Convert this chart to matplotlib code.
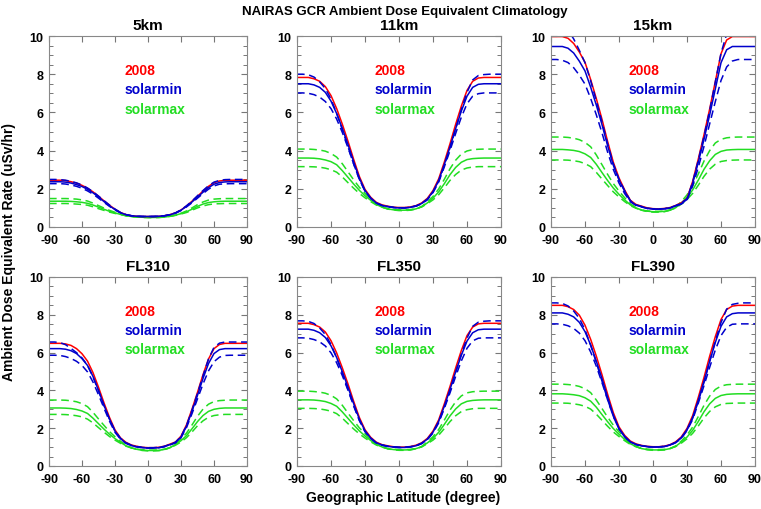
import matplotlib
matplotlib.use("Agg")
import matplotlib.pyplot as plt
from matplotlib.ticker import MultipleLocator

plt.rcParams['font.family'] = ['Liberation Sans', 'DejaVu Sans']
plt.rcParams['font.weight'] = 'bold'

latitude = list(range(-90, 91, 5))

# ---------------- 5km ----------------
km5_2008 = [2.45,2.45,2.45,2.43,2.37,2.3,2.18,2.03,1.84,1.61,1.37,1.14,0.93,0.76,0.65,0.59,0.56,0.55,0.55,0.55,0.56,0.59,0.65,0.74,0.89,1.1,1.35,1.61,1.88,2.13,2.32,2.41,2.44,2.45,2.45,2.45,2.45]
km5_min = [2.37,2.37,2.37,2.35,2.3,2.22,2.12,1.97,1.79,1.57,1.33,1.11,0.91,0.75,0.64,0.59,0.56,0.55,0.55,0.55,0.56,0.59,0.64,0.73,0.88,1.08,1.31,1.57,1.82,2.06,2.24,2.33,2.36,2.37,2.37,2.37,2.37]
km5_min_hi = [2.49,2.49,2.48,2.45,2.39,2.31,2.2,2.04,1.85,1.62,1.38,1.15,0.94,0.76,0.65,0.59,0.56,0.55,0.55,0.55,0.56,0.59,0.65,0.74,0.9,1.11,1.36,1.64,1.91,2.16,2.35,2.44,2.48,2.49,2.49,2.49,2.49]
km5_min_lo = [2.27,2.27,2.27,2.25,2.2,2.13,2.03,1.89,1.72,1.51,1.29,1.08,0.89,0.74,0.64,0.58,0.56,0.55,0.55,0.55,0.56,0.58,0.64,0.72,0.86,1.05,1.27,1.51,1.75,1.98,2.15,2.24,2.26,2.27,2.27,2.27,2.27]
km5_max = [1.35,1.35,1.35,1.35,1.34,1.32,1.29,1.24,1.15,1.04,0.93,0.82,0.74,0.66,0.59,0.55,0.52,0.51,0.5,0.5,0.5,0.52,0.56,0.62,0.7,0.8,0.93,1.08,1.2,1.28,1.32,1.34,1.35,1.35,1.35,1.35,1.35]
km5_max_hi = [1.49,1.49,1.49,1.49,1.48,1.46,1.42,1.36,1.25,1.12,0.99,0.87,0.77,0.68,0.6,0.55,0.52,0.5,0.49,0.49,0.5,0.52,0.56,0.63,0.72,0.84,1.0,1.17,1.31,1.41,1.46,1.48,1.49,1.49,1.49,1.49,1.49]
km5_max_lo = [1.23,1.23,1.23,1.23,1.22,1.2,1.18,1.14,1.06,0.96,0.87,0.78,0.71,0.65,0.59,0.55,0.53,0.52,0.51,0.51,0.51,0.53,0.56,0.61,0.68,0.76,0.88,1.0,1.1,1.17,1.21,1.22,1.23,1.23,1.23,1.23,1.23]

# ---------------- 11km ----------------
km11_2008 = [7.83,7.83,7.83,7.76,7.63,7.35,6.88,6.2,5.38,4.49,3.54,2.65,1.97,1.56,1.29,1.16,1.09,1.04,1.02,1.02,1.05,1.12,1.26,1.5,1.91,2.52,3.4,4.36,5.38,6.33,7.15,7.63,7.8,7.83,7.83,7.83,7.83]
km11_min = [7.5,7.5,7.5,7.44,7.31,7.05,6.59,5.94,5.16,4.32,3.41,2.56,1.91,1.52,1.26,1.13,1.07,1.02,1.0,1.0,1.03,1.1,1.23,1.46,1.85,2.43,3.28,4.19,5.16,6.07,6.85,7.31,7.47,7.5,7.5,7.5,7.5]
km11_min_hi = [8.0,8.0,7.97,7.85,7.6,7.25,6.7,5.95,5.1,4.2,3.3,2.5,1.88,1.5,1.25,1.13,1.07,1.03,1.01,1.01,1.04,1.1,1.23,1.45,1.83,2.4,3.22,4.15,5.15,6.15,7.05,7.7,7.93,7.98,8.0,8.0,8.0]
km11_min_lo = [7.02,7.02,7.0,6.93,6.8,6.57,6.2,5.65,4.95,4.15,3.3,2.5,1.88,1.5,1.25,1.12,1.06,1.02,1.0,1.0,1.03,1.09,1.21,1.42,1.8,2.35,3.15,4.0,4.9,5.75,6.45,6.85,6.98,7.02,7.02,7.02,7.02]
km11_max = [3.61,3.61,3.61,3.6,3.57,3.51,3.42,3.26,2.95,2.6,2.25,1.92,1.64,1.4,1.18,1.04,0.95,0.9,0.88,0.88,0.89,0.95,1.06,1.26,1.51,1.84,2.27,2.74,3.12,3.39,3.53,3.58,3.6,3.61,3.61,3.61,3.61]
km11_max_hi = [4.08,4.08,4.08,4.06,4.03,3.97,3.85,3.66,3.31,2.89,2.47,2.08,1.76,1.47,1.21,1.05,0.94,0.89,0.86,0.86,0.88,0.94,1.07,1.31,1.6,1.99,2.5,3.05,3.5,3.82,3.98,4.05,4.07,4.08,4.08,4.08,4.08]
km11_max_lo = [3.16,3.16,3.16,3.15,3.13,3.08,3.0,2.87,2.62,2.32,2.03,1.76,1.53,1.33,1.15,1.04,0.96,0.92,0.9,0.9,0.91,0.96,1.05,1.22,1.42,1.69,2.05,2.44,2.75,2.98,3.09,3.14,3.16,3.16,3.16,3.16,3.16]

# ---------------- 15km ----------------
km15_2008 = [9.97,9.97,9.97,9.88,9.61,9.16,8.62,7.72,6.72,5.64,4.47,3.39,2.57,1.94,1.4,1.18,1.09,1.0,0.96,0.95,0.97,1.02,1.13,1.27,1.49,2.39,3.57,4.83,6.18,7.62,9.07,9.79,9.97,9.97,9.97,9.97,9.97]
km15_min = [9.45,9.45,9.45,9.36,9.11,8.68,8.17,7.32,6.38,5.36,4.25,3.23,2.46,1.87,1.36,1.14,1.06,0.97,0.94,0.93,0.95,1.0,1.1,1.23,1.44,2.29,3.4,4.59,5.87,7.23,8.6,9.28,9.45,9.45,9.45,9.45,9.45]
km15_min_hi = [10.6,10.6,10.55,10.3,9.85,9.25,8.6,7.65,6.6,5.5,4.35,3.3,2.5,1.9,1.38,1.16,1.07,0.99,0.95,0.94,0.96,1.01,1.12,1.26,1.48,2.35,3.5,4.75,6.1,7.6,9.1,10.1,10.45,10.55,10.6,10.6,10.6]
km15_min_lo = [8.77,8.77,8.73,8.61,8.34,7.95,7.48,6.73,5.87,4.93,3.91,3.01,2.3,1.75,1.32,1.13,1.05,0.97,0.94,0.93,0.95,0.99,1.09,1.2,1.4,2.15,3.13,4.22,5.4,6.57,7.67,8.38,8.69,8.77,8.77,8.77,8.77]
km15_max = [4.06,4.06,4.06,4.04,4.01,3.95,3.83,3.64,3.28,2.85,2.43,2.04,1.71,1.42,1.16,1.0,0.88,0.83,0.8,0.8,0.82,0.88,1.01,1.26,1.55,1.94,2.46,3.02,3.47,3.8,3.96,4.03,4.05,4.06,4.06,4.06,4.06]
km15_max_hi = [4.71,4.71,4.71,4.69,4.65,4.57,4.43,4.2,3.77,3.26,2.75,2.27,1.88,1.53,1.21,1.02,0.88,0.81,0.78,0.78,0.8,0.88,1.04,1.33,1.68,2.16,2.78,3.45,4.0,4.4,4.59,4.67,4.7,4.71,4.71,4.71,4.71]
km15_max_lo = [3.51,3.51,3.51,3.5,3.47,3.42,3.32,3.16,2.86,2.51,2.17,1.84,1.57,1.33,1.12,0.98,0.89,0.84,0.82,0.82,0.83,0.89,0.99,1.2,1.44,1.76,2.19,2.65,3.03,3.29,3.43,3.48,3.5,3.51,3.51,3.51,3.51]

# ---------------- FL310 ----------------
fl310_2008 = [6.49,6.49,6.49,6.46,6.38,6.21,5.94,5.55,4.94,4.17,3.34,2.57,1.91,1.49,1.25,1.11,1.04,0.99,0.97,0.97,0.99,1.05,1.16,1.27,1.58,2.18,3.01,3.9,4.83,5.66,6.21,6.43,6.49,6.49,6.49,6.49,6.49]
fl310_min = [6.21,6.21,6.21,6.18,6.1,5.95,5.68,5.32,4.74,4.0,3.21,2.48,1.84,1.45,1.21,1.08,1.01,0.97,0.95,0.95,0.97,1.03,1.13,1.24,1.53,2.11,2.9,3.74,4.63,5.42,5.95,6.16,6.21,6.21,6.21,6.21,6.21]
fl310_min_hi = [6.56,6.56,6.53,6.42,6.22,6.0,5.72,5.33,4.71,3.98,3.2,2.47,1.86,1.46,1.23,1.09,1.03,0.98,0.97,0.97,0.99,1.04,1.14,1.26,1.55,2.14,2.95,3.84,4.77,5.66,6.28,6.5,6.56,6.56,6.56,6.56,6.56]
fl310_min_lo = [5.86,5.86,5.85,5.79,5.69,5.54,5.32,4.98,4.44,3.77,3.06,2.37,1.78,1.42,1.2,1.07,1.01,0.97,0.95,0.95,0.97,1.02,1.12,1.22,1.49,2.03,2.77,3.55,4.34,5.03,5.52,5.76,5.85,5.86,5.86,5.86,5.86]
fl310_max = [3.07,3.07,3.07,3.06,3.04,2.99,2.91,2.78,2.53,2.24,1.95,1.68,1.45,1.25,1.07,0.96,0.88,0.84,0.82,0.82,0.83,0.88,0.97,1.14,1.34,1.61,1.97,2.35,2.67,2.89,3.0,3.05,3.07,3.07,3.07,3.07,3.07]
fl310_max_hi = [3.49,3.49,3.49,3.48,3.45,3.4,3.3,3.14,2.84,2.49,2.15,1.82,1.55,1.31,1.1,0.96,0.87,0.82,0.8,0.8,0.81,0.87,0.97,1.18,1.42,1.74,2.17,2.63,3.01,3.27,3.41,3.46,3.48,3.49,3.49,3.49,3.49]
fl310_max_lo = [2.73,2.73,2.73,2.72,2.7,2.66,2.6,2.48,2.28,2.03,1.79,1.56,1.37,1.2,1.05,0.95,0.89,0.86,0.84,0.84,0.85,0.89,0.96,1.1,1.27,1.5,1.8,2.13,2.39,2.58,2.67,2.71,2.73,2.73,2.73,2.73,2.73]

# ---------------- FL350 ----------------
fl350_2008 = [7.55,7.55,7.55,7.48,7.35,7.09,6.63,5.98,5.19,4.34,3.42,2.57,1.92,1.52,1.26,1.13,1.07,1.02,1.0,1.0,1.03,1.1,1.23,1.46,1.85,2.44,3.29,4.21,5.19,6.11,6.9,7.35,7.52,7.55,7.55,7.55,7.55]
fl350_min = [7.24,7.24,7.24,7.18,7.05,6.8,6.36,5.74,4.99,4.17,3.3,2.48,1.86,1.48,1.23,1.11,1.04,1.0,0.98,0.98,1.01,1.07,1.2,1.42,1.79,2.36,3.17,4.05,4.99,5.86,6.61,7.05,7.21,7.24,7.24,7.24,7.24]
fl350_min_hi = [7.68,7.68,7.65,7.54,7.3,6.96,6.43,5.72,4.91,4.04,3.18,2.41,1.82,1.46,1.22,1.11,1.05,1.01,0.99,0.99,1.02,1.07,1.2,1.41,1.78,2.32,3.1,3.99,4.95,5.91,6.77,7.39,7.61,7.66,7.68,7.68,7.68]
fl350_min_lo = [6.78,6.78,6.76,6.69,6.57,6.35,5.99,5.46,4.78,4.01,3.2,2.42,1.83,1.46,1.22,1.1,1.04,1.0,0.98,0.98,1.01,1.07,1.18,1.39,1.75,2.28,3.05,3.87,4.74,5.56,6.23,6.62,6.76,6.78,6.78,6.78,6.78]
fl350_max = [3.5,3.5,3.5,3.49,3.46,3.41,3.31,3.16,2.86,2.52,2.18,1.86,1.59,1.35,1.14,1.01,0.92,0.87,0.85,0.85,0.86,0.92,1.02,1.22,1.46,1.78,2.2,2.65,3.02,3.29,3.42,3.47,3.49,3.5,3.5,3.5,3.5]
fl350_max_hi = [3.96,3.96,3.96,3.94,3.91,3.85,3.74,3.55,3.21,2.8,2.4,2.02,1.71,1.42,1.17,1.02,0.91,0.86,0.83,0.83,0.85,0.91,1.03,1.27,1.55,1.93,2.43,2.96,3.4,3.71,3.87,3.93,3.95,3.96,3.96,3.96,3.96]
fl350_max_lo = [3.05,3.05,3.05,3.04,3.02,2.97,2.9,2.77,2.53,2.24,1.96,1.7,1.48,1.28,1.11,1.0,0.92,0.89,0.87,0.87,0.88,0.92,1.01,1.18,1.37,1.63,1.98,2.35,2.66,2.88,2.98,3.03,3.05,3.05,3.05,3.05,3.05]

# ---------------- FL390 ----------------
fl390_2008 = [8.5,8.5,8.5,8.43,8.28,7.98,7.45,6.7,5.81,4.83,3.79,2.82,2.07,1.62,1.32,1.17,1.09,1.04,1.02,1.02,1.05,1.13,1.28,1.54,1.99,2.67,3.64,4.69,5.81,6.85,7.75,8.28,8.46,8.5,8.5,8.5,8.5]
fl390_min = [8.1,8.1,8.1,8.03,7.89,7.6,7.11,6.4,5.54,4.62,3.63,2.7,1.99,1.57,1.28,1.14,1.07,1.02,1.0,1.0,1.03,1.11,1.25,1.5,1.92,2.56,3.49,4.48,5.54,6.54,7.39,7.89,8.06,8.1,8.1,8.1,8.1]
fl390_min_hi = [8.63,8.63,8.6,8.47,8.2,7.81,7.21,6.39,5.47,4.49,3.51,2.63,1.96,1.54,1.27,1.14,1.08,1.03,1.01,1.01,1.05,1.11,1.25,1.49,1.91,2.53,3.42,4.43,5.52,6.62,7.59,8.3,8.55,8.61,8.63,8.63,8.63]
fl390_min_lo = [7.52,7.52,7.5,7.42,7.28,7.03,6.63,6.03,5.28,4.41,3.49,2.62,1.95,1.54,1.27,1.13,1.07,1.02,1.0,1.0,1.03,1.1,1.23,1.46,1.87,2.46,3.33,4.25,5.22,6.14,6.9,7.34,7.5,7.52,7.52,7.52,7.52]
fl390_max = [3.82,3.82,3.82,3.8,3.77,3.72,3.61,3.43,3.11,2.72,2.34,1.98,1.68,1.41,1.18,1.03,0.92,0.87,0.85,0.85,0.86,0.92,1.04,1.27,1.53,1.89,2.36,2.87,3.29,3.58,3.73,3.79,3.81,3.82,3.82,3.82,3.82]
fl390_max_hi = [4.33,4.33,4.33,4.31,4.28,4.21,4.09,3.88,3.49,3.04,2.58,2.16,1.81,1.5,1.22,1.04,0.92,0.86,0.83,0.83,0.85,0.92,1.06,1.32,1.64,2.06,2.62,3.21,3.7,4.05,4.23,4.3,4.32,4.33,4.33,4.33,4.33]
fl390_max_lo = [3.33,3.33,3.33,3.32,3.29,3.24,3.16,3.01,2.74,2.42,2.1,1.8,1.56,1.34,1.14,1.02,0.93,0.89,0.87,0.87,0.88,0.93,1.03,1.21,1.44,1.73,2.12,2.54,2.89,3.13,3.26,3.31,3.32,3.33,3.33,3.33,3.33]

panel_titles = ["5km", "11km", "15km", "FL310", "FL350", "FL390"]
panel_data = [
    (km5_2008, km5_min, km5_min_hi, km5_min_lo, km5_max, km5_max_hi, km5_max_lo),
    (km11_2008, km11_min, km11_min_hi, km11_min_lo, km11_max, km11_max_hi, km11_max_lo),
    (km15_2008, km15_min, km15_min_hi, km15_min_lo, km15_max, km15_max_hi, km15_max_lo),
    (fl310_2008, fl310_min, fl310_min_hi, fl310_min_lo, fl310_max, fl310_max_hi, fl310_max_lo),
    (fl350_2008, fl350_min, fl350_min_hi, fl350_min_lo, fl350_max, fl350_max_hi, fl350_max_lo),
    (fl390_2008, fl390_min, fl390_min_hi, fl390_min_lo, fl390_max, fl390_max_hi, fl390_max_lo),
]
legend_labels = ["2008", "solarmin", "solarmax"]
xticks = [-90, -60, -30, 0, 30, 60, 90]
yticks = [0, 2, 4, 6, 8, 10]

RED = '#ff0000'
BLUE = '#0000cc'
GREEN = '#22dd22'

W, H = 761, 510
fig = plt.figure(figsize=(W / 100, H / 100), dpi=100)

col_px = [(49, 247), (297, 501), (551, 755)]
row_px = [(37, 228), (278, 467)]

lw = 1.1
dash = (0, (5, 3))
for i, (title, data) in enumerate(zip(panel_titles, panel_data)):
    r, c = divmod(i, 3)
    x0, x1 = col_px[c]
    y0, y1 = row_px[r]
    ax = fig.add_axes([x0 / W, 1 - y1 / H, (x1 - x0) / W, (y1 - y0) / H])
    red, bmin, bhi, blo, gmax, ghi, glo = data
    ax.plot(latitude, glo, color=GREEN, lw=lw, ls=dash)
    ax.plot(latitude, ghi, color=GREEN, lw=lw, ls=dash)
    ax.plot(latitude, gmax, color=GREEN, lw=lw)
    ax.plot(latitude, red, color=RED, lw=lw)
    ax.plot(latitude, bmin, color=BLUE, lw=lw)
    ax.plot(latitude, bhi, color=BLUE, lw=lw, ls=dash)
    ax.plot(latitude, blo, color=BLUE, lw=lw, ls=dash)
    ax.set_xlim(-90, 90)
    ax.set_ylim(0, 10)
    ax.set_xticks(xticks)
    ax.set_xticklabels([str(t) for t in xticks])
    ax.set_yticks(yticks)
    ax.set_yticklabels([str(t) for t in yticks])
    ax.yaxis.set_minor_locator(MultipleLocator(0.5))
    ax.tick_params(which='both', direction='in', top=True, right=True,
                   labelsize=9, color='#777777')
    ax.tick_params(axis='x', pad=5)
    ax.tick_params(axis='y', pad=4)
    ax.tick_params(which='major', length=4, width=0.8)
    ax.tick_params(which='minor', length=3, width=0.7)
    for lab in ax.get_xticklabels() + ax.get_yticklabels():
        lab.set_fontweight('bold')
    for sp in ax.spines.values():
        sp.set_color('#888888')
        sp.set_linewidth(0.8)
    ax.set_title(title, fontsize=11, fontweight='bold', pad=5)
    for k, (lab, col) in enumerate(zip(legend_labels, [RED, BLUE, GREEN])):
        ax.text(0.38, 0.82 - 0.1 * k, lab, color=col, fontsize=10, fontweight='bold',
                transform=ax.transAxes, ha='left', va='center')

fig.text(405 / W, 1 - 12 / H, "NAIRAS GCR Ambient Dose Equivalent Climatology",
         ha='center', va='center', fontsize=9.5, fontweight='bold')
fig.text(403 / W, 1 - 498 / H, "Geographic Latitude (degree)",
         ha='center', va='center', fontsize=10, fontweight='bold')
fig.text(9 / W, 1 - 252 / H, "Ambient Dose Equivalent Rate (uSv/hr)",
         ha='center', va='center', fontsize=10, fontweight='bold', rotation=90)

fig.savefig("out.png", dpi=100)
